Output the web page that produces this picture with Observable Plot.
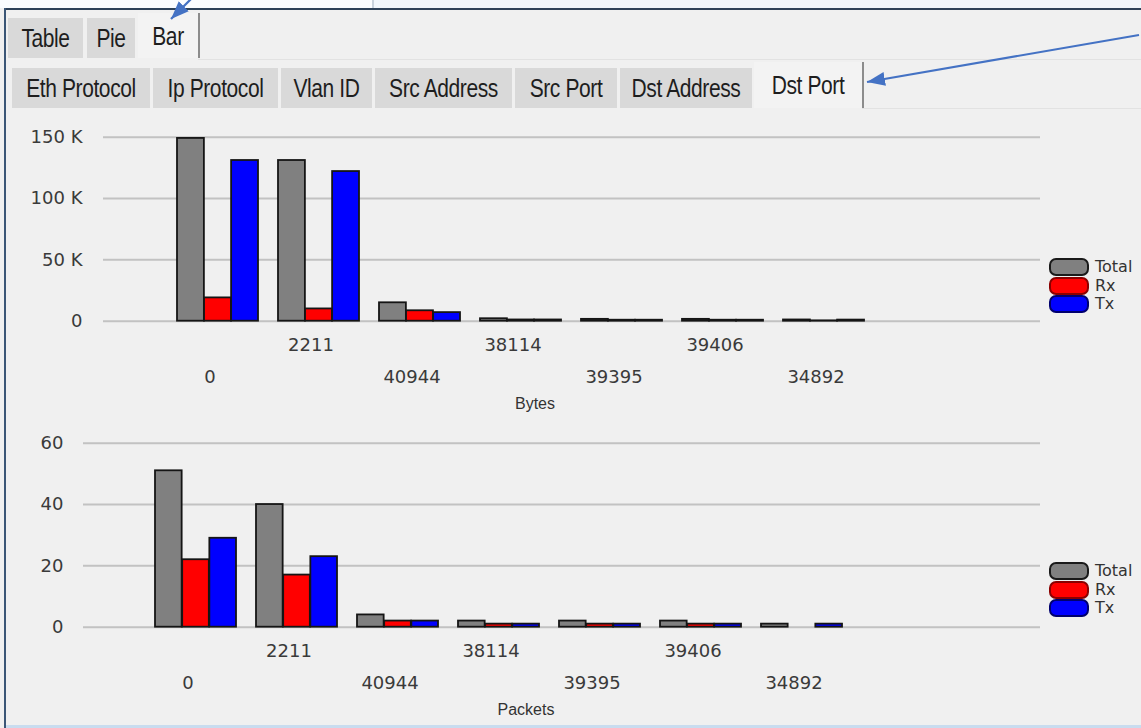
<!DOCTYPE html>
<html>
<head>
<meta charset="utf-8">
<script src="https://cdn.jsdelivr.net/npm/d3@7"></script>
<script src="https://cdn.jsdelivr.net/npm/@observablehq/plot@0.6"></script>
<style>
  html, body { margin: 0; padding: 0; }
  body { width: 1141px; height: 728px; background: #f0f0f0; position: relative; overflow: hidden; font-family: "Liberation Sans", sans-serif; }
  .abs { position: absolute; }
  .tab { position: absolute; background: #d9d9d9; display: flex; align-items: center; justify-content: center; color: #1e1e1e; }
  .tab span { display: inline-block; font-size: 21px; letter-spacing: -0.4px; transform: scaleY(1.25); }
  .tab.sel { background: #f3f3f3; border-right: 2px solid #8c8c8c; }
  .legend { position: absolute; left: 1049px; }
  .legend .item { position: absolute; left: 0; height: 18px; }
  .legend .sw { position: absolute; left: 0; top: 0; width: 36px; height: 14px; border-radius: 7px; border: 2px solid #111; }
  .legend .lb { position: absolute; left: 46px; top: -1px; font-family: "DejaVu Sans", sans-serif; font-size: 16px; color: #333; white-space: nowrap; }
</style>
</head>
<body>
<div id="frame"></div>
<div id="tabs"></div>
<div id="chart1" class="abs" style="left:0;top:110px;"></div>
<div id="chart2" class="abs" style="left:0;top:420px;"></div>
<div id="legend1" class="legend" style="top:258px;"></div>
<div id="legend2" class="legend" style="top:562px;"></div>
<svg class="abs" style="left:0;top:0;pointer-events:none;" width="1141" height="728">
  <defs>
    <marker id="ah" markerUnits="userSpaceOnUse" markerWidth="20" markerHeight="16" refX="18" refY="8" orient="auto">
      <path d="M0,1 L18,8 L0,15 Z" fill="#4472c4"></path>
    </marker>
  </defs>
  <line x1="194" y1="-4" x2="171" y2="19" stroke="#4472c4" stroke-width="2.2" marker-end="url(#ah)"></line>
  <line x1="1139" y1="35" x2="867" y2="82" stroke="#4472c4" stroke-width="2.2" marker-end="url(#ah)"></line>
</svg>
<script>
// ---------- data ----------
const topTabs = ["Table", "Pie", "Bar"];
const subTabs = ["Eth Protocol", "Ip Protocol", "Vlan ID", "Src Address", "Src Port", "Dst Address", "Dst Port"];
const ports = ["0", "2211", "40944", "38114", "39395", "39406", "34892"];
const seriesNames = ["Total", "Rx", "Tx"];
const seriesColors = ["#808080", "#ff0000", "#0000ff"];
const legendBorders = ["#1a1a1a", "#8a0000", "#00006e"];
const bytesTotal = [149000, 131000, 15000, 2000, 1500, 1500, 1000];
const bytesRx = [19000, 10000, 8500, 1000, 800, 800, 300];
const bytesTx = [131000, 122000, 7000, 1000, 800, 800, 900];
const packetsTotal = [51, 40, 4, 2, 2, 2, 1];
const packetsRx = [22, 17, 2, 1, 1, 1, 0];
const packetsTx = [29, 23, 2, 1, 1, 1, 1];
const byteTicks = [0, 50000, 100000, 150000];
const packetTicks = [0, 20, 40, 60];
const byteAxisLabel = "Bytes";
const packetAxisLabel = "Packets";

// ---------- window chrome ----------
const frame = document.getElementById("frame");
frame.innerHTML = `
  <div class="abs" style="left:0;top:0;width:372px;height:8px;background:#fbfdff;"></div>
  <div class="abs" style="left:372px;top:0;width:2px;height:8px;background:#c9d3dd;"></div>
  <div class="abs" style="left:374px;top:0;width:767px;height:8px;background:#f1f6fb;"></div>
  <div class="abs" style="left:4px;top:8px;width:1137px;height:2px;background:#2e4259;"></div>
  <div class="abs" style="left:4px;top:8px;width:2px;height:720px;background:#3b5676;"></div>
  <div class="abs" style="left:6px;top:725px;width:1135px;height:3px;background:#c9dcef;"></div>
  <div class="abs" style="left:198px;top:59px;width:943px;height:1px;background:#e2e2e2;"></div>
  <div class="abs" style="left:862px;top:108px;width:279px;height:1px;background:#e2e2e2;"></div>
`;
const tabsEl = document.getElementById("tabs");
const topTabBoxes = [[8, 18, 75, 40], [87, 18, 48, 40], [138, 13, 60, 45]];
topTabs.forEach((t, i) => {
  const [l, tp, w, h] = topTabBoxes[i];
  const d = document.createElement("div");
  d.className = "tab" + (i === topTabs.length - 1 ? " sel" : "");
  Object.assign(d.style, {left: l + "px", top: tp + "px", width: w + "px", height: h + "px"});
  d.innerHTML = `<span>${t}</span>`;
  tabsEl.appendChild(d);
});
const subTabBoxes = [[12, 68, 138, 40], [153, 68, 125, 40], [281, 68, 91, 40], [375, 68, 137, 40], [515, 68, 102, 40], [620, 68, 132, 40], [754, 62, 108, 46]];
subTabs.forEach((t, i) => {
  const [l, tp, w, h] = subTabBoxes[i];
  const d = document.createElement("div");
  d.className = "tab" + (i === subTabs.length - 1 ? " sel" : "");
  Object.assign(d.style, {left: l + "px", top: tp + "px", width: w + "px", height: h + "px"});
  d.innerHTML = `<span>${t}</span>`;
  tabsEl.appendChild(d);
});

// ---------- charts ----------
function toRows(total, rx, tx) {
  const vals = [total, rx, tx];
  return ports.flatMap((p, i) => seriesNames.map((s, j) => ({port: p, series: s, value: vals[j][i]})));
}

function makeChart({data, ticks, fmt, range, height, marginTop, marginBottom, marginLeft, tickPadding, label, labelDx}) {
  const bw = (range[1] - range[0]) / (ports.length - 0.2) * 0.8;
  const sub = bw / 3;
  const odd = ports.filter((_, i) => i % 2 === 1);
  const even = ports.filter((_, i) => i % 2 === 0);
  return Plot.plot({
    width: 1141,
    height,
    marginTop,
    marginBottom,
    marginLeft,
    marginRight: 101,
    style: {background: "transparent", fontFamily: "DejaVu Sans, sans-serif", fontSize: "18px", color: "#3a3a3a", overflow: "visible"},
    x: {type: "band", domain: ports, range, paddingInner: 0.2, paddingOuter: 0, axis: null, label: null},
    y: {domain: [ticks[0], ticks[ticks.length - 1]], axis: null, label: null},
    marks: [
      Plot.gridY(ticks, {stroke: "#c2c2c2", strokeOpacity: 1, strokeWidth: 2}),
      Plot.axisY({ticks, tickSize: 0, tickPadding, tickFormat: fmt, label: null}),
      ...seriesNames.map((s, j) => Plot.barY(data.filter(d => d.series === s && d.value > 0), {
        x: "port", y: "value", fill: seriesColors[j], stroke: "#151515", strokeWidth: 1.8,
        insetLeft: j * sub, insetRight: (2 - j) * sub
      })),
      Plot.axisX({ticks: odd, tickSize: 0, tickPadding: 17, dx: -8, label: null}),
      Plot.axisX({ticks: even, tickSize: 0, tickPadding: 49, dx: -8, label: null}),
      Plot.text([label], {frameAnchor: "bottom", dx: labelDx, dy: 83, fontSize: 16, fontFamily: "Liberation Sans, sans-serif", fill: "#333", lineAnchor: "middle"})
    ]
  });
}

document.getElementById("chart1").appendChild(makeChart({
  data: toRows(bytesTotal, bytesRx, bytesTx),
  ticks: byteTicks,
  fmt: d => d === 0 ? "0" : `${d / 1000} K`,
  range: [175, 865],
  height: 310, marginTop: 26.7, marginBottom: 99.3, marginLeft: 103, tickPadding: 21,
  label: byteAxisLabel, labelDx: -37
}));
document.getElementById("chart2").appendChild(makeChart({
  data: toRows(packetsTotal, packetsRx, packetsTx),
  ticks: packetTicks,
  fmt: d => `${d}`,
  range: [152, 845],
  height: 308, marginTop: 22.7, marginBottom: 101.3, marginLeft: 83, tickPadding: 20,
  label: packetAxisLabel, labelDx: -36
}));

// ---------- legends ----------
function makeLegend(el) {
  seriesNames.forEach((s, j) => {
    const it = document.createElement("div");
    it.className = "item";
    it.style.top = (j * 18.5) + "px";
    it.innerHTML = `<div class="sw" style="background:${seriesColors[j]};border-color:${legendBorders[j]}"></div><div class="lb">${s}</div>`;
    el.appendChild(it);
  });
}
makeLegend(document.getElementById("legend1"));
makeLegend(document.getElementById("legend2"));
</script>
</body>
</html>
